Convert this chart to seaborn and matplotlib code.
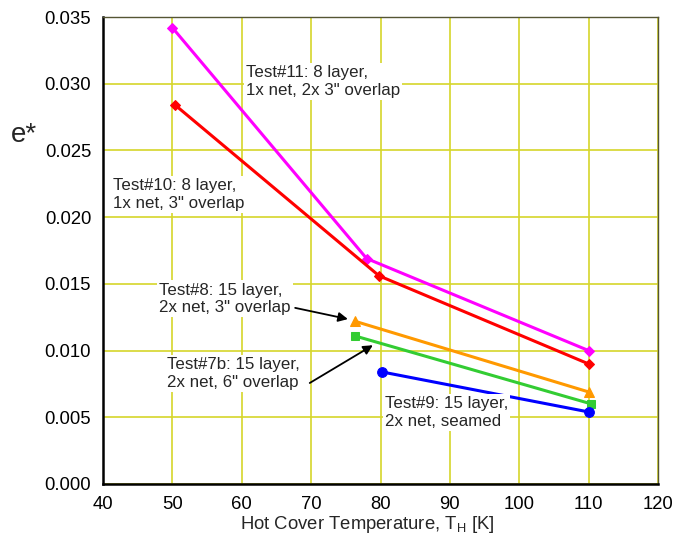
import matplotlib
matplotlib.use("Agg")
import matplotlib.pyplot as plt
import seaborn as sns
import pandas as pd

sns.set_style("white")
plt.rcParams['font.family'] = ['Liberation Sans', 'DejaVu Sans']

# Data
t11_x = [50.0, 78.0, 110.0]
t11_y = [0.0342, 0.0169, 0.0100]
t10_x = [50.4, 79.8, 110.0]
t10_y = [0.0284, 0.0156, 0.0090]
t8_x = [76.3, 110.0]
t8_y = [0.0122, 0.0069]
t7b_x = [76.3, 110.4]
t7b_y = [0.0111, 0.0060]
t9_x = [80.2, 110.0]
t9_y = [0.0084, 0.0054]

series = [
    ("Test#11", t11_x, t11_y, "#ff00ff", "D", 5),
    ("Test#10", t10_x, t10_y, "#ff0000", "D", 5),
    ("Test#8", t8_x, t8_y, "#ff9900", "^", 7),
    ("Test#7b", t7b_x, t7b_y, "#33cc33", "s", 6),
    ("Test#9", t9_x, t9_y, "#0000ff", "o", 7),
]

fig = plt.figure(figsize=(6.75, 5.4), dpi=100)
ax = fig.add_axes([103/675, 1-484/540, 555/675, 467/540])

for name, xs, ys, c, m, ms in series:
    df = pd.DataFrame({"x": xs, "y": ys})
    sns.lineplot(data=df, x="x", y="y", ax=ax, color=c, marker=m, markersize=ms,
                 markeredgecolor=c, linewidth=2.2, sort=False, zorder=3)

ax.set_xlim(40, 120)
ax.set_ylim(0, 0.035)
ax.set_xticks(range(40, 121, 10))
ax.set_yticks([i * 0.005 for i in range(8)])
ax.set_yticklabels([f"{i*0.005:.3f}" for i in range(8)])
ax.grid(True, color="#d6d62a", linewidth=1.2)
ax.set_axisbelow(True)
for s in ["left", "bottom"]:
    ax.spines[s].set_color("black")
    ax.spines[s].set_linewidth(1.8)
for s in ["top", "right"]:
    ax.spines[s].set_color("#555533")
    ax.spines[s].set_linewidth(1.0)
ax.tick_params(axis="both", labelsize=13.3, direction="out", length=5, width=1.2, colors="black")
ax.set_xlabel("Hot Cover Temperature, T$_\\mathregular{H}$ [K]", fontsize=13.3, labelpad=1)
ax.xaxis.label.set_x((367 - 103) / 555)
ax.set_ylabel("")
fig.text(11/675, 1-135/540, "e*", fontsize=20, va="center", ha="left")

box = dict(facecolor="white", edgecolor="none", pad=1.5)
fs = 12.2
ls = 1.22
ax.text(60.6, 0.0314, "Test#11: 8 layer,\n1x net, 2x 3\" overlap", fontsize=fs, va="top", ha="left", bbox=box, zorder=5, linespacing=ls)
ax.text(41.5, 0.0229, "Test#10: 8 layer,\n1x net, 3\" overlap", fontsize=fs, va="top", ha="left", bbox=box, zorder=5, linespacing=ls)
ax.text(48.1, 0.0151, "Test#8: 15 layer,\n2x net, 3\" overlap", fontsize=fs, va="top", ha="left", bbox=box, zorder=5, linespacing=ls)
ax.text(49.2, 0.0095, "Test#7b: 15 layer,\n2x net, 6\" overlap", fontsize=fs, va="top", ha="left", bbox=box, zorder=5, linespacing=ls)
ax.text(80.6, 0.0066, "Test#9: 15 layer,\n2x net, seamed", fontsize=fs, va="top", ha="left", bbox=box, zorder=5, linespacing=ls)

arrowprops = dict(arrowstyle="-|>", color="black", lw=1.3, mutation_scale=14, shrinkA=0, shrinkB=0)
ax.annotate("", xy=(75.3, 0.01236), xytext=(67.7, 0.0132), arrowprops=arrowprops, zorder=6)
ax.annotate("", xy=(78.9, 0.0104), xytext=(69.8, 0.00757), arrowprops=arrowprops, zorder=6)

fig.savefig("out.png", dpi=100)
